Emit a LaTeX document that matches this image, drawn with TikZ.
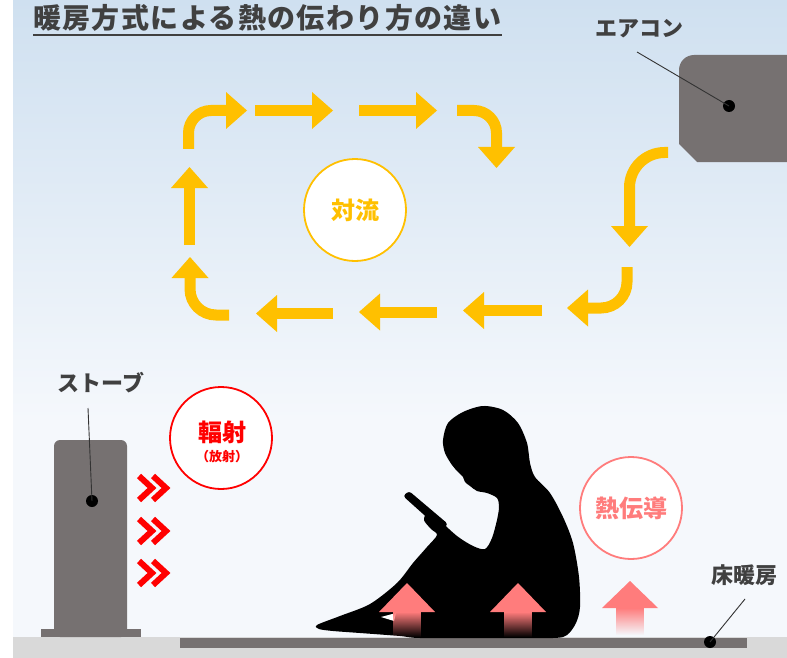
\documentclass[tikz,border=0pt]{standalone}
\usepackage{fontspec}
\newfontfamily\jp{Noto Sans CJK JP}
\newfontfamily\jphead{Noto Sans CJK JP}[LetterSpace=5]
\usetikzlibrary{arrows.meta}
\usetikzlibrary{fadings}

\definecolor{sky}{HTML}{CFE0F0}
\definecolor{paper}{HTML}{F5F8FC}
\definecolor{amber}{HTML}{FFC000}
\definecolor{unitgray}{HTML}{767171}
\definecolor{floorgray}{HTML}{D9D9D9}
\definecolor{labelgray}{HTML}{404040}
\definecolor{heatred}{HTML}{FF0000}
\definecolor{salmon}{HTML}{FF7C7C}

\tikzfading[name=fade down, top color=transparent!0, bottom color=transparent!100]

\begin{document}
\begin{tikzpicture}[x=1pt,y=-1pt,
  flow/.style={draw=amber,line width=11pt,-{Triangle[length=21pt,width=37pt,line width=0pt]}},
  chev/.style={draw=heatred,line width=6pt},
  tag/.style={font=\jp\bfseries\fontsize{22}{22}\selectfont,text=labelgray},
  dot/.style={circle,fill=black,inner sep=0pt,minimum size=12pt},
  lead/.style={draw=black!80,line width=0.9pt},
  ring/.style={circle,fill=white,line width=1.8pt,minimum size=102pt,inner sep=0pt}]
\useasboundingbox (0,0) rectangle (787,658);

% room
\shade[top color=sky,bottom color=paper] (13,0) rectangle (787,420);
\fill[paper] (13,420) rectangle (787,637);
\fill[floorgray] (13,637) rectangle (787,658);
\fill[unitgray] (180,638) rectangle (747,648);

% title
\node[anchor=base west,inner sep=0pt,text=labelgray,
  font=\jphead\bfseries\fontsize{28}{28}\selectfont] (title) at (33,29) {暖房方式による熱の伝わり方の違い};
\draw[labelgray,line width=2.5pt] ([yshift=-6pt]title.base west) -- ([yshift=-6pt]title.base east);

% air conditioner
\fill[unitgray] (697,162) -- (679,144) -- (679,70) .. controls (679,61.7) and (685.7,55) .. (694,55)
  -- (787,55) -- (787,162) -- cycle;
\node[tag] (ac-name) at (639,29) {エアコン};
\node[dot] (ac-dot) at (729,106) {};
\coordinate (ac-end) at (637,52);
\draw[lead] (ac-end) -- (ac-dot.center);

% stove
\fill[unitgray,rounded corners=6pt] (54,637) rectangle (127,440);
\fill[unitgray] (41,629) rectangle (141,637);
\node[tag] (stove-name) at (101,383) {ストーブ};
\node[dot] (stove-dot) at (92,501) {};
\coordinate (stove-end) at (88,408);
\draw[lead] (stove-end) -- (stove-dot.center);

% floor heating
\node[tag] (floor-name) at (744,575) {床暖房};
\node[dot] (floor-dot) at (710,642) {};
\coordinate (floor-end) at (745,599);
\draw[lead] (floor-end) -- (floor-dot.center);

% convection loop
\draw[flow] (188.5,149) -- (188.5,133) .. controls (188.5,120.6) and (198.6,110.5) .. (211,110.5) -- (247,110.5);
\draw[flow] (255,110.5) -- (333,110.5);
\draw[flow] (359,110.5) -- (437,110.5);
\draw[flow] (457,110.5) -- (474,110.5) .. controls (486.4,110.5) and (496.5,120.6) .. (496.5,133) -- (496.5,168);
\draw[flow] (668,152.5) -- (664.5,152.5) .. controls (645.2,152.5) and (629.5,168.2) .. (629.5,187.5) -- (629.5,247);
\draw[flow] (627,267) -- (627,282) .. controls (627,296.4) and (615.4,308) .. (601,308) -- (567,308);
\draw[flow] (542,310.5) -- (463,310.5);
\draw[flow] (437,312) -- (359,312);
\draw[flow] (333,313.5) -- (256,313.5);
\draw[flow] (229,315) -- (216,315) .. controls (201.6,315) and (190,303.4) .. (190,289) -- (190,257);
\draw[flow] (189.5,245) -- (189.5,167);
\node[ring,draw=amber,text=amber,font=\jp\bfseries\fontsize{24}{24}\selectfont] (conv) at (355,210) {対流};

% radiation
\foreach \y in {488,531,573} {
  \draw[chev] (139,\y-12) -- (152,\y) -- (139,\y+12);
  \draw[chev] (153,\y-12) -- (166,\y) -- (153,\y+12);
}
\node[ring,draw=heatred] (rad) at (221,438) {};
\node[text=heatred,font=\jp\bfseries\fontsize{24}{24}\selectfont] (rad-name) at (222,432) {輻射};
\node[text=heatred,font=\jp\bfseries\fontsize{13}{13}\selectfont] (rad-note) at (222,457) {（放射）};

% child reading on the floor
\fill[black] plot[smooth cycle,tension=0.5] coordinates {
  (317,625) (340,616) (370,604) (397,583) (413,563) (427,547) (437,535)
  (431,529) (424,520) (428,512) (438,519) (457,536) (473,546) (485,549)
  (492,538) (497,520) (499,507) (497,498) (487,493) (477,491) (470,486)
  (465,482) (463,477) (458,472) (452,465) (445,453) (443,440) (448,423)
  (463,412) (483,406) (503,410) (518,423) (527,443) (530,463) (535,477)
  (550,493) (563,517) (573,543) (579,577) (580,607) (576,623) (567,635)
  (553,638) (490,638) (420,638) (400,636) (360,633) (333,631) (319,629)};
\fill[black,rounded corners=3pt] (403,496) -- (409,491) -- (448,524) -- (442,531) -- cycle;
\fill[white] (381,617) -- (396,613) -- (394,621) -- cycle;

% conduction
\fill[salmon] (379,612) -- (407,583) -- (435,612) -- cycle;
\fill[salmon,path fading=fade down] (393,612) rectangle (421,637);
\fill[salmon] (490,612) -- (518,583) -- (546,612) -- cycle;
\fill[salmon,path fading=fade down] (504,612) rectangle (532,637);
\fill[salmon] (602,608) -- (630,581) -- (658,608) -- cycle;
\fill[salmon,path fading=fade down] (616,608) rectangle (644,635);
\node[ring,draw=salmon,text=salmon,font=\jp\bfseries\fontsize{24}{24}\selectfont] (cond) at (631,508) {熱伝導};
\end{tikzpicture}
\end{document}
